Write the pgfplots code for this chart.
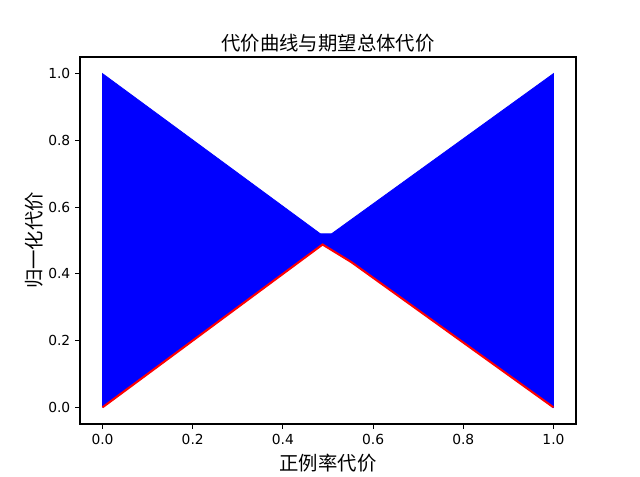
\documentclass[border=0pt]{standalone}
\usepackage{fontspec}
\setmainfont{DejaVu Sans}
\newfontfamily\cjk{Noto Sans CJK SC}
\usepackage{pgfplots}
\pgfplotsset{compat=1.18}

\begin{document}
\begin{tikzpicture}
% canvas 6.4in x 4.77in, axis box from (0.8in,0.53in)
\useasboundingbox (-0.8in,-0.53in) rectangle (5.6in,4.24in);
\begin{axis}[
    at={(0,0)}, anchor=south west,
    scale only axis,
    width=4.96in, height=3.67in,
    xmin=-0.05, xmax=1.05,
    ymin=-0.05, ymax=1.05,
    xtick={0,0.2,0.4,0.6,0.8,1.0},
    ytick={0,0.2,0.4,0.6,0.8,1.0},
    xtick pos=bottom, ytick pos=left,
    tick align=outside,
    major tick length=3.5pt,
    every tick/.style={black, line width=0.8pt},
    axis line style={line width=0.8pt},
    /pgf/number format/assume math mode=true,
    /pgf/number format/.cd, fixed, fixed zerofill, precision=1, /pgfplots/.cd,
    tick label style={font=\fontsize{10}{12}\selectfont},
    title={\cjk 代价曲线与期望总体代价},
    title style={font=\fontsize{14}{17}\selectfont, at={(0.5,1)}, anchor=south, yshift=-6pt},
    xlabel={\cjk 正例率代价},
    ylabel={\cjk 归一化代价},
    xlabel style={font=\fontsize{14}{17}\selectfont, yshift=0pt},
    ylabel style={font=\fontsize{14}{17}\selectfont, yshift=-3pt},
]
% envelope of the dense cost lines
\addplot[draw=blue, fill=blue, line width=0.6pt] coordinates {
    (0,0) (0,1) (0.483,0.52) (0.508,0.52) (1,1) (1,0)
    (0.552,0.435) (0.488,0.488) (0,0)
};
% expected total cost (lower envelope)
\addplot[red, line width=1.5pt] coordinates {
    (0,0) (0.488,0.488) (0.552,0.435) (1,0)
};
\end{axis}
\end{tikzpicture}
\end{document}
